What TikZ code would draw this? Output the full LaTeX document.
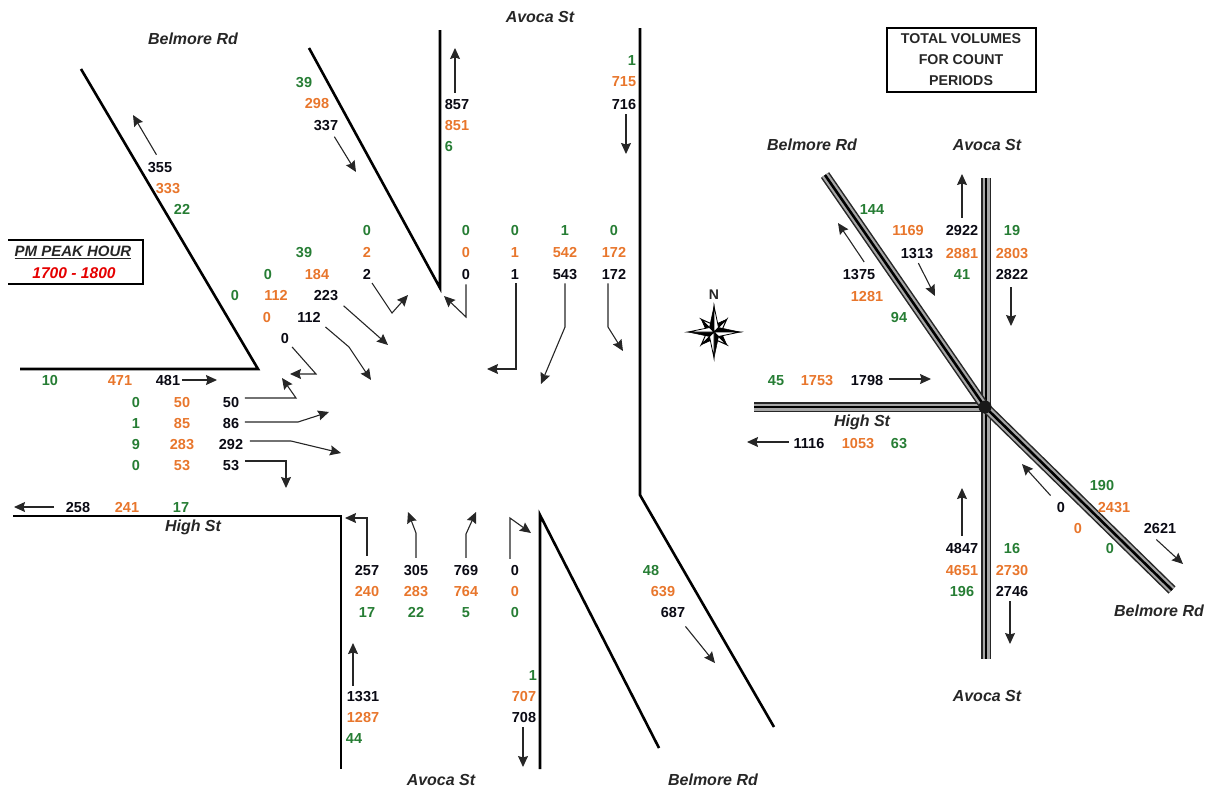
\documentclass[tikz,border=0pt]{standalone}
\usepackage{xcolor}
\usepackage{fontspec}
\setmainfont{Liberation Sans}
\usetikzlibrary{arrows.meta}
\definecolor{vgreen}{RGB}{38,125,52}
\definecolor{vorange}{RGB}{232,118,44}
\definecolor{vblack}{RGB}{10,10,20}
\begin{document}
\begin{tikzpicture}[x=1pt,y=-1pt,inner sep=1.5pt,font=\fontsize{14.5}{16}\selectfont\bfseries]
  \tikzstyle{blk}=[text=vblack,yshift=-0.6pt]
  \tikzstyle{org}=[text=vorange,yshift=-0.6pt]
  \tikzstyle{grn}=[text=vgreen,yshift=-0.6pt]
  \tikzstyle{road}=[line width=2.6pt,black,line join=miter]
  \tikzstyle{dual}=[line width=2.6pt,black,preaction={draw,line width=10pt,black!85},
                    preaction={draw,line width=7pt,black!35}]
  \tikzstyle{arr}=[-{Stealth[length=11pt,width=10pt,inset=1.5pt]},line width=1.1pt,black!85,line join=miter]
  \tikzstyle{rdname}=[font=\fontsize{16}{17}\selectfont\bfseries\itshape,text=black!85]
  \useasboundingbox (0,0) rectangle (1214,793);
  % kerb lines
  \draw[road] (81,69) -- (258,369) -- (20,369);
  \draw[road] (309,48) -- (440,288) -- (440,30);
  \draw[road] (640,28) -- (640,495) -- (774,727);
  \draw[road] (13,516) -- (341,516) -- (341,769);
  \draw[road] (540,769) -- (540,515) -- (659,748);
  % small network on the right
  \draw[dual] (754,407) -- (985,407);
  \draw[dual] (986,178) -- (986,659);
  \draw[dual] (825,175) -- (985,407) -- (1172,590);
  \fill[black!90] (985,407) circle (6.5);
  % street names
  \node[rdname](avocaN) at (540,17){Avoca St};
  \node[rdname](belmoreNW) at (193,39){Belmore Rd};
  \node[rdname](highW) at (193,527){High St};
  \node[rdname](avocaS) at (441,780){Avoca St};
  \node[rdname](belmoreSE) at (713,780){Belmore Rd};
  \node[rdname](netBelmoreNW) at (812,145){Belmore Rd};
  \node[rdname](netAvocaN) at (987,145){Avoca St};
  \node[rdname](netHigh) at (862,422){High St};
  \node[rdname](netAvocaS) at (987,696){Avoca St};
  \node[rdname](netBelmoreSE) at (1159,611){Belmore Rd};
  % title boxes
  \node[align=center,font=\fontsize{14.2}{21}\selectfont\bfseries,text=black!85](totals) at (961,60){TOTAL VOLUMES\\FOR COUNT\\PERIODS};
  \draw[line width=2.2pt] (887,28) rectangle (1036,92);
  \node[font=\fontsize{15}{16}\selectfont\bfseries\itshape,text=black!85](peak) at (73,252){\underline{PM PEAK HOUR}};
  \node[font=\fontsize{15.6}{16}\selectfont\bfseries\itshape,text=red!90!black](peakTime) at (74,273){1700 - 1800};
  \draw[line width=2.6pt] (8,240) -- (143,240) -- (143,284) -- (8,284);
  % north point
  \node[font=\fontsize{14}{16}\selectfont\bfseries,text=black!85](north) at (714,295){N};
  \begin{scope}[shift={(714,332)}]
    \foreach \ang in {45,135,225,315}{
      \begin{scope}[rotate=\ang]
        \filldraw[fill=black,draw=black,line width=0.5pt] (0,0) -- (5,-5) -- (18,0) -- cycle;
        \filldraw[fill=white,draw=black,line width=1pt] (0,0) -- (5,5) -- (18,0) -- cycle;
      \end{scope}
    }
    \foreach \ang in {0,90,180,270}{
      \begin{scope}[rotate=\ang]
        \filldraw[fill=black,draw=black,line width=0.5pt] (0,0) -- (4.5,-4.5) -- (26,0) -- cycle;
        \filldraw[fill=white,draw=black,line width=0.8pt] (0,0) -- (4.5,4.5) -- (26,0) -- cycle;
      \end{scope}
    }
  \end{scope}
  % Belmore Rd north-west, departing
  \node[blk](nwoutA) at (160,167){355};
  \node[org](nwoutB) at (168,188){333};
  \node[grn](nwoutC) at (182,209){22};
  \coordinate(nwoutE) at (133,115);
  \draw[arr,shorten <=7pt](nwoutA.north) -- (nwoutE);
  % Belmore Rd north-west, approaching
  \node[grn](nwinC) at (304,82){39};
  \node[org](nwinB) at (317,103){298};
  \node[blk](nwinA) at (326,125){337};
  \coordinate(nwinE) at (356,172);
  \draw[arr,shorten <=5pt](nwinA.-50) -- (nwinE);
  % Avoca St north
  \node[blk](noutA) at (457,104){857};
  \node[org](noutB) at (457,125){851};
  \node[grn](noutC) at (449,146){6};
  \coordinate(noutE) at (455,48);
  \draw[arr,shorten <=5pt](noutA.north -| noutE) -- (noutE);
  \node[grn](ninC) at (632,60){1};
  \node[org](ninB) at (624,81){715};
  \node[blk](ninA) at (624,104){716};
  \coordinate(ninE) at (626,154);
  \draw[arr,shorten <=3pt](ninA.south -| ninE) -- (ninE);
  % turns from Belmore Rd north-west
  \node[grn](twoC) at (367,230){0};
  \node[org](twoB) at (367,252){2};
  \node[blk](twoA) at (367,274){2};
  \coordinate(twoM) at (392,313);
  \coordinate(twoE) at (408,295);
  \draw[arr,shorten <=2pt](twoA.-60) -- (twoM) -- (twoE);
  \node[grn](thrC) at (304,252){39};
  \node[org](thrB) at (317,274){184};
  \node[blk](thrA) at (326,295){223};
  \coordinate(thrE) at (388,345);
  \draw[arr,shorten <=5pt](thrA.south east) -- (thrE);
  \node[grn](fouD) at (268,274){0};
  \node[org](fouC) at (276,295){112};
  \node[blk](fouA) at (309,317){112};
  \coordinate(fouM) at (349,347);
  \coordinate(fouE) at (371,380);
  \draw[arr,shorten <=4pt](fouA.south east) -- (fouM) -- (fouE);
  \node[grn](fivC) at (235,295){0};
  \node[org](fivB) at (267,317){0};
  \node[blk](fivA) at (285,338){0};
  \coordinate(fivM) at (316,374);
  \coordinate(fivE) at (290,374);
  \draw[arr,shorten <=2pt](fivA.south east) -- (fivM) -- (fivE);
  % turns from Avoca St north
  \node[grn](sthC) at (466,230){0};
  \node[org](sthB) at (466,252){0};
  \node[blk](sthA) at (466,274){0};
  \coordinate(sthM) at (466,317);
  \coordinate(sthE) at (444,296);
  \draw[arr,shorten <=3pt](sthA.south) -- (sthM) -- (sthE);
  \node[grn](wstC) at (515,230){0};
  \node[org](wstB) at (515,252){1};
  \node[blk](wstA) at (515,274){1};
  \coordinate(wstM) at (516,369);
  \coordinate(wstE) at (487,369);
  \draw[arr,shorten <=2pt](wstA.south -| wstM) -- (wstM) -- (wstE);
  \node[grn](thuC) at (565,230){1};
  \node[org](thuB) at (565,252){542};
  \node[blk](thuA) at (565,274){543};
  \coordinate(thuM) at (565,327);
  \coordinate(thuE) at (541,384);
  \draw[arr,shorten <=2pt](thuA.south) -- (thuM) -- (thuE);
  \node[grn](lefC) at (614,230){0};
  \node[org](lefB) at (614,252){172};
  \node[blk](lefA) at (614,274){172};
  \coordinate(lefM) at (608,327);
  \coordinate(lefE) at (623,351);
  \draw[arr,shorten <=2pt](lefA.south -| lefM) -- (lefM) -- (lefE);
  % High St west
  \node[grn](winC) at (50,380){10};
  \node[org](winB) at (120,380){471};
  \node[blk](winA) at (168,380){481};
  \coordinate(winE) at (217,380);
  \draw[arr](winA.east |- winE) -- (winE);
  \node[grn](hwaC) at (136,402){0};
  \node[org](hwaB) at (182,402){50};
  \node[blk](hwaA) at (231,402){50};
  \coordinate(hwaM) at (296,398);
  \coordinate(hwaE) at (282,378);
  \draw[arr,shorten <=4pt](hwaA.east |- hwaM) -- (hwaM) -- (hwaE);
  \node[grn](hwbC) at (136,423){1};
  \node[org](hwbB) at (182,423){85};
  \node[blk](hwbA) at (231,423){86};
  \coordinate(hwbM) at (298,422);
  \coordinate(hwbE) at (329,412);
  \draw[arr,shorten <=4pt](hwbA.east |- hwbM) -- (hwbM) -- (hwbE);
  \node[grn](hwcC) at (136,444){9};
  \node[org](hwcB) at (182,444){283};
  \node[blk](hwcA) at (231,444){292};
  \coordinate(hwcM) at (291,441);
  \coordinate(hwcE) at (341,453);
  \draw[arr,shorten <=5pt](hwcA.east |- hwcM) -- (hwcM) -- (hwcE);
  \node[grn](hwdC) at (136,465){0};
  \node[org](hwdB) at (182,465){53};
  \node[blk](hwdA) at (231,465){53};
  \coordinate(hwdM) at (286,461);
  \coordinate(hwdE) at (286,488);
  \draw[arr,shorten <=4pt](hwdA.east |- hwdM) -- (hwdM) -- (hwdE);
  \node[blk](woutA) at (78,507){258};
  \node[org](woutB) at (127,507){241};
  \node[grn](woutC) at (181,507){17};
  \coordinate(woutE) at (14,507);
  \draw[arr,shorten <=10pt](woutA.west |- woutE) -- (woutE);
  % Avoca St south
  \node[blk](saaA) at (367,570){257};
  \node[org](saaB) at (367,591){240};
  \node[grn](saaC) at (367,612){17};
  \coordinate(saaM) at (367,518);
  \coordinate(saaE) at (345,518);
  \draw[arr,shorten <=8pt](saaA.north) -- (saaM) -- (saaE);
  \node[blk](sabA) at (416,570){305};
  \node[org](sabB) at (416,591){283};
  \node[grn](sabC) at (416,612){22};
  \coordinate(sabM) at (416,533);
  \coordinate(sabE) at (408,512);
  \draw[arr,shorten <=6pt](sabA.north) -- (sabM) -- (sabE);
  \node[blk](sacA) at (466,570){769};
  \node[org](sacB) at (466,591){764};
  \node[grn](sacC) at (466,612){5};
  \coordinate(sacM) at (466,534);
  \coordinate(sacE) at (476,512);
  \draw[arr,shorten <=6pt](sacA.north) -- (sacM) -- (sacE);
  \node[blk](sadA) at (515,570){0};
  \node[org](sadB) at (515,591){0};
  \node[grn](sadC) at (515,612){0};
  \coordinate(sadM) at (510,518);
  \coordinate(sadE) at (531,533);
  \draw[arr,shorten <=5pt](sadA.north -| sadM) -- (sadM) -- (sadE);
  \node[blk](soutA) at (363,696){1331};
  \node[org](soutB) at (363,717){1287};
  \node[grn](soutC) at (354,738){44};
  \coordinate(soutE) at (353,643);
  \draw[arr,shorten <=4pt](soutA.north -| soutE) -- (soutE);
  \node[grn](sinC) at (533,675){1};
  \node[org](sinB) at (524,696){707};
  \node[blk](sinA) at (524,717){708};
  \coordinate(sinE) at (523,767);
  \draw[arr,shorten <=3pt](sinA.south -| sinE) -- (sinE);
  % Belmore Rd south-east
  \node[grn](seC) at (651,570){48};
  \node[org](seB) at (663,591){639};
  \node[blk](seA) at (673,612){687};
  \coordinate(seE) at (715,663);
  \draw[arr,shorten <=9pt](seA.-45) -- (seE);
  % totals on the network
  \node[blk](tnoA) at (962,230){2922};
  \node[org](tnoB) at (962,253){2881};
  \node[grn](tnoC) at (962,274){41};
  \coordinate(tnoE) at (962,174);
  \draw[arr,shorten <=6pt](tnoA.north) -- (tnoE);
  \node[grn](tniC) at (1012,230){19};
  \node[org](tniB) at (1012,253){2803};
  \node[blk](tniA) at (1012,274){2822};
  \coordinate(tniE) at (1011,326);
  \draw[arr,shorten <=6pt](tniA.south -| tniE) -- (tniE);
  \node[grn](twiC) at (872,209){144};
  \node[org](twiB) at (908,230){1169};
  \node[blk](twiA) at (917,253){1313};
  \coordinate(twiE) at (935,296);
  \draw[arr,shorten <=3pt](twiA.south) -- (twiE);
  \node[blk](twoutA) at (859,274){1375};
  \node[org](twoutB) at (867,296){1281};
  \node[grn](twoutC) at (899,317){94};
  \coordinate(twoutE) at (838,223);
  \draw[arr,shorten <=7pt](twoutA.37) -- (twoutE);
  \node[grn](thiC) at (776,380){45};
  \node[org](thiB) at (817,380){1753};
  \node[blk](thiA) at (867,380){1798};
  \coordinate(thiE) at (931,379);
  \draw[arr,shorten <=4pt](thiA.east |- thiE) -- (thiE);
  \node[blk](thoA) at (809,443){1116};
  \node[org](thoB) at (858,443){1053};
  \node[grn](thoC) at (899,443){63};
  \coordinate(thoE) at (747,442);
  \draw[arr,shorten <=3pt](thoA.west |- thoE) -- (thoE);
  \node[grn](tsoC) at (1102,485){190};
  \node[org](tsoB) at (1114,507){2431};
  \node[blk](tsoA) at (1160,528){2621};
  \coordinate(tsoE) at (1183,564);
  \draw[arr,shorten <=6pt](tsoA.-140) -- (tsoE);
  \node[blk](tsiA) at (1061,507){0};
  \node[org](tsiB) at (1078,528){0};
  \node[grn](tsiC) at (1110,548){0};
  \coordinate(tsiE) at (1022,464);
  \draw[arr,shorten <=7pt](tsiA.north west) -- (tsiE);
  \node[blk](tauA) at (962,548){4847};
  \node[org](tauB) at (962,570){4651};
  \node[grn](tauC) at (962,591){196};
  \coordinate(tauE) at (962,488);
  \draw[arr,shorten <=6pt](tauA.north) -- (tauE);
  \node[grn](tadC) at (1012,548){16};
  \node[org](tadB) at (1012,570){2730};
  \node[blk](tadA) at (1012,591){2746};
  \coordinate(tadE) at (1010,644);
  \draw[arr,shorten <=3pt](tadA.south -| tadE) -- (tadE);
\end{tikzpicture}
\end{document}
